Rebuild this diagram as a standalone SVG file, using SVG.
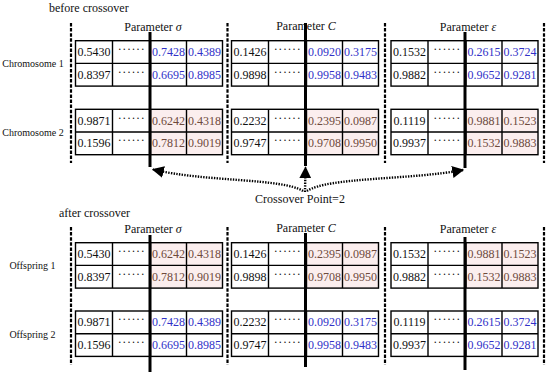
<svg xmlns="http://www.w3.org/2000/svg" width="550" height="374" viewBox="0 0 550 374" font-family="'Liberation Serif', 'DejaVu Serif', serif">
<style>
.tb{fill:none;stroke:#000;stroke-width:1.4}
.pk{fill:#fbeeee;stroke:none}
text{font-family:'Liberation Serif','DejaVu Serif',serif;fill:#111}
.n{font-size:12px;text-anchor:middle}
.b{fill:#3131c8}
.r{fill:#6e4a3c}
.d{font-size:12px;text-anchor:middle;letter-spacing:0.6px}
.h{font-size:12px}
.hc{font-size:12px;text-anchor:middle}
.lb{font-size:10px;text-anchor:middle}
.sep{stroke:#000;stroke-width:2.2;stroke-dasharray:3.5 1.6;fill:none}
.cut{stroke:#000;stroke-width:3;fill:none}
.dot{stroke:#000;stroke-width:2.4;stroke-dasharray:1.4 1.3;fill:none}
</style>
<defs>
<marker id="ah" markerUnits="userSpaceOnUse" markerWidth="12" markerHeight="12" viewBox="0 0 10 10" refX="9" refY="5" orient="auto">
<path d="M0,0 L10,5 L0,10 z" fill="#000"/>
</marker>
</defs>
<rect width="550" height="374" fill="#fff"/>

<g id="titles">
<text class="h" x="49" y="12">before crossover</text>
<text class="h" x="59" y="217">after crossover</text>
<text class="hc" x="153" y="31">Parameter <tspan font-style="italic">σ</tspan></text>
<text class="hc" x="306" y="30">Parameter <tspan font-style="italic">C</tspan></text>
<text class="hc" x="468" y="31">Parameter <tspan font-style="italic">ε</tspan></text>
<text class="hc" x="153" y="233">Parameter <tspan font-style="italic">σ</tspan></text>
<text class="hc" x="306" y="232">Parameter <tspan font-style="italic">C</tspan></text>
<text class="hc" x="468" y="233">Parameter <tspan font-style="italic">ε</tspan></text>
<text class="lb" x="33" y="66.5">Chromosome 1</text>
<text class="lb" x="33" y="135.5">Chromosome 2</text>
<text class="lb" x="32.5" y="268.5">Offspring 1</text>
<text class="lb" x="32.5" y="337.5">Offspring 2</text>
<text class="hc" x="300" y="203">Crossover Point=2</text>
</g>

<g id="separators">
<line class="sep" x1="71" y1="23" x2="71" y2="163"/>
<line class="sep" x1="227.5" y1="23" x2="227.5" y2="163"/>
<line class="sep" x1="385" y1="23" x2="385" y2="163"/>
<line class="sep" x1="544" y1="23" x2="544" y2="163"/>
<line class="sep" x1="71" y1="227" x2="71" y2="365"/>
<line class="sep" x1="227.5" y1="227" x2="227.5" y2="365"/>
<line class="sep" x1="385" y1="227" x2="385" y2="365"/>
<line class="sep" x1="544" y1="227" x2="544" y2="365"/>
</g>

<!-- before crossover: chromosome 1 -->
<g id="c1-sigma">
<rect class="tb" x="75.5" y="40.7" width="147" height="45.4"/>
<path class="tb" d="M75.5,63.4H222.5M112.5,40.7V86.1M150.5,40.7V86.1M186.5,40.7V86.1"/>
<text class="n" x="94" y="56">0.5430</text><text class="d" x="131.5" y="53">······</text><text class="n b" x="168.5" y="56">0.7428</text><text class="n b" x="204.5" y="56">0.4389</text>
<text class="n" x="94" y="78.7">0.8397</text><text class="d" x="131.5" y="75.7">······</text><text class="n b" x="168.5" y="78.7">0.6695</text><text class="n b" x="204.5" y="78.7">0.8985</text>
</g>
<g id="c1-C">
<rect class="tb" x="231.5" y="40.7" width="147" height="45.4"/>
<path class="tb" d="M231.5,63.4H378.5M268.5,40.7V86.1M306.5,40.7V86.1M342.5,40.7V86.1"/>
<text class="n" x="250" y="56">0.1426</text><text class="d" x="287.5" y="53">······</text><text class="n b" x="324.5" y="56">0.0920</text><text class="n b" x="360.5" y="56">0.3175</text>
<text class="n" x="250" y="78.7">0.9898</text><text class="d" x="287.5" y="75.7">······</text><text class="n b" x="324.5" y="78.7">0.9958</text><text class="n b" x="360.5" y="78.7">0.9483</text>
</g>
<g id="c1-eps">
<rect class="tb" x="391" y="40.7" width="147" height="45.4"/>
<path class="tb" d="M391,63.4H538M428,40.7V86.1M466,40.7V86.1M502,40.7V86.1"/>
<text class="n" x="409.5" y="56">0.1532</text><text class="d" x="447" y="53">······</text><text class="n b" x="484" y="56">0.2615</text><text class="n b" x="520" y="56">0.3724</text>
<text class="n" x="409.5" y="78.7">0.9882</text><text class="d" x="447" y="75.7">······</text><text class="n b" x="484" y="78.7">0.9652</text><text class="n b" x="520" y="78.7">0.9281</text>
</g>

<!-- before crossover: chromosome 2 -->
<g id="c2-sigma">
<rect class="pk" x="150.5" y="109.3" width="72" height="45.4"/>
<rect class="tb" x="75.5" y="109.3" width="147" height="45.4"/>
<path class="tb" d="M75.5,132H222.5M112.5,109.3V154.7M150.5,109.3V154.7M186.5,109.3V154.7"/>
<text class="n" x="94" y="124.6">0.9871</text><text class="d" x="131.5" y="121.6">······</text><text class="n r" x="168.5" y="124.6">0.6242</text><text class="n r" x="204.5" y="124.6">0.4318</text>
<text class="n" x="94" y="147.3">0.1596</text><text class="d" x="131.5" y="144.3">······</text><text class="n r" x="168.5" y="147.3">0.7812</text><text class="n r" x="204.5" y="147.3">0.9019</text>
</g>
<g id="c2-C">
<rect class="pk" x="306.5" y="109.3" width="72" height="45.4"/>
<rect class="tb" x="231.5" y="109.3" width="147" height="45.4"/>
<path class="tb" d="M231.5,132H378.5M268.5,109.3V154.7M306.5,109.3V154.7M342.5,109.3V154.7"/>
<text class="n" x="250" y="124.6">0.2232</text><text class="d" x="287.5" y="121.6">······</text><text class="n r" x="324.5" y="124.6">0.2395</text><text class="n r" x="360.5" y="124.6">0.0987</text>
<text class="n" x="250" y="147.3">0.9747</text><text class="d" x="287.5" y="144.3">······</text><text class="n r" x="324.5" y="147.3">0.9708</text><text class="n r" x="360.5" y="147.3">0.9950</text>
</g>
<g id="c2-eps">
<rect class="pk" x="466" y="109.3" width="72" height="45.4"/>
<rect class="tb" x="391" y="109.3" width="147" height="45.4"/>
<path class="tb" d="M391,132H538M428,109.3V154.7M466,109.3V154.7M502,109.3V154.7"/>
<text class="n" x="409.5" y="124.6">0.1119</text><text class="d" x="447" y="121.6">······</text><text class="n r" x="484" y="124.6">0.9881</text><text class="n r" x="520" y="124.6">0.1523</text>
<text class="n" x="409.5" y="147.3">0.9937</text><text class="d" x="447" y="144.3">······</text><text class="n r" x="484" y="147.3">0.1532</text><text class="n r" x="520" y="147.3">0.9883</text>
</g>

<!-- after crossover: offspring 1 -->
<g id="o1-sigma">
<rect class="pk" x="150.5" y="242.7" width="72" height="45.4"/>
<rect class="tb" x="75.5" y="242.7" width="147" height="45.4"/>
<path class="tb" d="M75.5,265.4H222.5M112.5,242.7V288.1M150.5,242.7V288.1M186.5,242.7V288.1"/>
<text class="n" x="94" y="258">0.5430</text><text class="d" x="131.5" y="255">······</text><text class="n r" x="168.5" y="258">0.6242</text><text class="n r" x="204.5" y="258">0.4318</text>
<text class="n" x="94" y="280.7">0.8397</text><text class="d" x="131.5" y="277.7">······</text><text class="n r" x="168.5" y="280.7">0.7812</text><text class="n r" x="204.5" y="280.7">0.9019</text>
</g>
<g id="o1-C">
<rect class="pk" x="306.5" y="242.7" width="72" height="45.4"/>
<rect class="tb" x="231.5" y="242.7" width="147" height="45.4"/>
<path class="tb" d="M231.5,265.4H378.5M268.5,242.7V288.1M306.5,242.7V288.1M342.5,242.7V288.1"/>
<text class="n" x="250" y="258">0.1426</text><text class="d" x="287.5" y="255">······</text><text class="n r" x="324.5" y="258">0.2395</text><text class="n r" x="360.5" y="258">0.0987</text>
<text class="n" x="250" y="280.7">0.9898</text><text class="d" x="287.5" y="277.7">······</text><text class="n r" x="324.5" y="280.7">0.9708</text><text class="n r" x="360.5" y="280.7">0.9950</text>
</g>
<g id="o1-eps">
<rect class="pk" x="466" y="242.7" width="72" height="45.4"/>
<rect class="tb" x="391" y="242.7" width="147" height="45.4"/>
<path class="tb" d="M391,265.4H538M428,242.7V288.1M466,242.7V288.1M502,242.7V288.1"/>
<text class="n" x="409.5" y="258">0.1532</text><text class="d" x="447" y="255">······</text><text class="n r" x="484" y="258">0.9881</text><text class="n r" x="520" y="258">0.1523</text>
<text class="n" x="409.5" y="280.7">0.9882</text><text class="d" x="447" y="277.7">······</text><text class="n r" x="484" y="280.7">0.1532</text><text class="n r" x="520" y="280.7">0.9883</text>
</g>

<!-- after crossover: offspring 2 -->
<g id="o2-sigma">
<rect class="tb" x="75.5" y="311" width="147" height="45.4"/>
<path class="tb" d="M75.5,333.7H222.5M112.5,311V356.4M150.5,311V356.4M186.5,311V356.4"/>
<text class="n" x="94" y="326.3">0.9871</text><text class="d" x="131.5" y="323.3">······</text><text class="n b" x="168.5" y="326.3">0.7428</text><text class="n b" x="204.5" y="326.3">0.4389</text>
<text class="n" x="94" y="349">0.1596</text><text class="d" x="131.5" y="346">······</text><text class="n b" x="168.5" y="349">0.6695</text><text class="n b" x="204.5" y="349">0.8985</text>
</g>
<g id="o2-C">
<rect class="tb" x="231.5" y="311" width="147" height="45.4"/>
<path class="tb" d="M231.5,333.7H378.5M268.5,311V356.4M306.5,311V356.4M342.5,311V356.4"/>
<text class="n" x="250" y="326.3">0.2232</text><text class="d" x="287.5" y="323.3">······</text><text class="n b" x="324.5" y="326.3">0.0920</text><text class="n b" x="360.5" y="326.3">0.3175</text>
<text class="n" x="250" y="349">0.9747</text><text class="d" x="287.5" y="346">······</text><text class="n b" x="324.5" y="349">0.9958</text><text class="n b" x="360.5" y="349">0.9483</text>
</g>
<g id="o2-eps">
<rect class="tb" x="391" y="311" width="147" height="45.4"/>
<path class="tb" d="M391,333.7H538M428,311V356.4M466,311V356.4M502,311V356.4"/>
<text class="n" x="409.5" y="326.3">0.1119</text><text class="d" x="447" y="323.3">······</text><text class="n b" x="484" y="326.3">0.2615</text><text class="n b" x="520" y="326.3">0.3724</text>
<text class="n" x="409.5" y="349">0.9937</text><text class="d" x="447" y="346">······</text><text class="n b" x="484" y="349">0.9652</text><text class="n b" x="520" y="349">0.9281</text>
</g>

<g id="connectors">
<line class="cut" x1="150" y1="32" x2="150" y2="167"/>
<line class="cut" x1="305.5" y1="23" x2="305.5" y2="166"/>
<line class="cut" x1="465" y1="32" x2="465" y2="168"/>
<line class="cut" x1="150" y1="235" x2="150" y2="372"/>
<line class="cut" x1="305.5" y1="233" x2="305.5" y2="367"/>
<line class="cut" x1="465" y1="237" x2="465" y2="370"/>
<path class="dot" d="M303,191 C282,178 205,182 153,169.5" marker-end="url(#ah)"/>
<path class="dot" d="M305,192 L305.5,167.5" marker-end="url(#ah)"/>
<path class="dot" d="M307,191 C328,177 410,180 463,170" marker-end="url(#ah)"/>
</g>
</svg>
